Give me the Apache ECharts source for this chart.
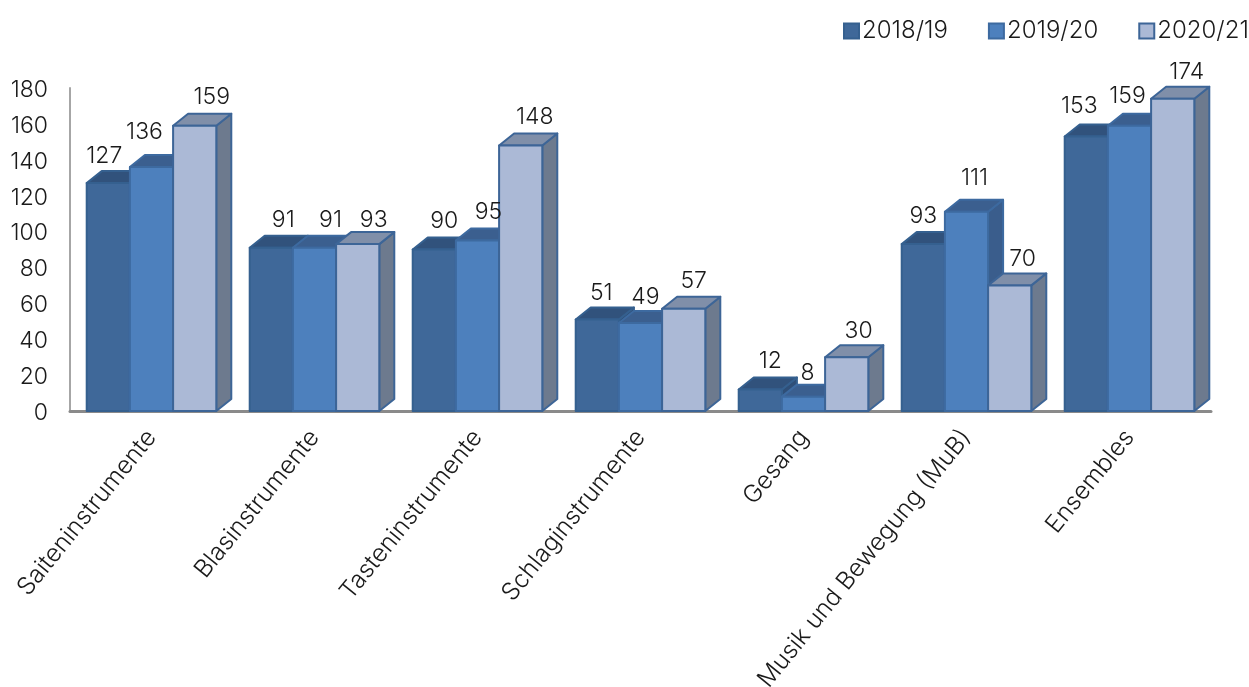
<!DOCTYPE html>
<html>
<head>
<meta charset="utf-8">
<title>Chart</title>
<script src="https://cdn.jsdelivr.net/npm/echarts@6/dist/echarts.min.js"></script>
<style>
  html, body { margin: 0; padding: 0; background: #fff; }
  #main { width: 1249px; height: 687px; }
</style>
</head>
<body>
<div id="main"></div>
<script>
const categories = ['Saiteninstrumente', 'Blasinstrumente', 'Tasteninstrumente', 'Schlaginstrumente', 'Gesang', 'Musik und Bewegung (MuB)', 'Ensembles'];
const seriesNames = ['2018/19', '2019/20', '2020/21'];
const values1819 = [127, 91, 90, 51, 12, 93, 153];
const values1920 = [136, 91, 95, 49, 8, 111, 159];
const values2021 = [159, 93, 148, 57, 30, 70, 174];
const yTicks = { min: 0, max: 180, interval: 20 };

// hand placed data labels in the original, offset from the top middle of each bar
const labelShift1819 = [[-4, -27], [12, -28], [10, -28], [4, -26], [10, -28], [0, -28], [-7, -30]];
const labelShift1920 = [[-7, -35], [16, -28], [11, -28], [5, -26], [4, -24], [8, -34], [-2, -30]];
const labelShift2021 = [[17, -29], [16, -24], [14, -28], [10, -28], [12, -26], [13, -26], [14, -27]];

const fontName = 'Inter';
const fontWeight = 300;
const numberSize = 23;
const wordSize = 24.5;
const legendSize = 24;
const textColor = '#1a1a1a';
const depthX = 15;
const depthY = 12;
const barShare = 0.265;

const looks = [
  { front: '#3f6899', top: '#31527c', side: '#2f4f78', line: '#35608f' },
  { front: '#4d80bd', top: '#3b5f8f', side: '#3a5d8c', line: '#3d6aa0' },
  { front: '#abb9d6', top: '#808fa9', side: '#6d7a8e', line: '#3d6597' }
];

function bar3d(seriesIndex, shifts) {
  return function (params, api) {
    const i = api.value(0);
    const v = api.value(1);
    const base = api.coord([i, 0]);
    const head = api.coord([i, v]);
    const w = api.size([1, 0])[0] * barShare;
    const x0 = base[0] + (seriesIndex - 1.5) * w;
    const x1 = x0 + w;
    const y0 = base[1];
    const y1 = head[1];
    const look = looks[seriesIndex];
    const edge = { stroke: look.line, lineWidth: 2, lineJoin: 'round' };
    return {
      type: 'group',
      children: [
        {
          type: 'polygon',
          shape: { points: [[x1, y0], [x1 + depthX, y0 - depthY], [x1 + depthX, y1 - depthY], [x1, y1]] },
          style: Object.assign({ fill: look.side }, edge)
        },
        {
          type: 'polygon',
          shape: { points: [[x0, y1], [x0 + depthX, y1 - depthY], [x1 + depthX, y1 - depthY], [x1, y1]] },
          style: Object.assign({ fill: look.top }, edge)
        },
        {
          type: 'rect',
          shape: { x: x0, y: y1, width: w, height: y0 - y1 },
          style: Object.assign({ fill: look.front }, edge)
        },
        {
          type: 'text',
          z2: 100,
          style: {
            x: (x0 + x1) / 2 + shifts[i][0],
            y: y1 + shifts[i][1],
            text: String(v),
            fill: textColor,
            font: fontWeight + ' ' + numberSize + 'px ' + fontName,
            align: 'center',
            verticalAlign: 'middle'
          }
        }
      ]
    };
  };
}

function makeSeries(index, values, shifts) {
  return {
    name: seriesNames[index],
    type: 'custom',
    coordinateSystem: 'cartesian2d',
    clip: false,
    itemStyle: { color: looks[index].front, borderColor: looks[index].line, borderWidth: 2 },
    encode: { x: 0, y: 1 },
    data: values.map(function (v, i) { return [i, v]; }),
    renderItem: bar3d(index, shifts)
  };
}

const chart = echarts.init(document.getElementById('main'));
chart.setOption({
  animation: false,
  backgroundColor: '#fff',
  textStyle: { fontFamily: fontName, fontWeight: fontWeight },
  legend: {
    data: seriesNames,
    left: 838,
    top: 14,
    width: 600,
    padding: 5,
    icon: 'rect',
    itemWidth: 15,
    itemHeight: 15,
    itemGap: 40,
    textStyle: { fontSize: legendSize, fontWeight: fontWeight, color: textColor, padding: [0, 0, 0, -2] }
  },
  grid: { left: 70, right: 38, top: 88, bottom: 276, outerBoundsMode: 'none' },
  xAxis: {
    type: 'category',
    data: categories,
    axisLine: { show: true, lineStyle: { color: '#8a8a8a', width: 3 } },
    axisTick: { show: false },
    splitLine: { show: false },
    axisLabel: { interval: 0, rotate: 51, fontSize: wordSize, fontWeight: fontWeight, color: textColor, margin: 22, hideOverlap: false }
  },
  yAxis: {
    type: 'value',
    min: yTicks.min,
    max: yTicks.max,
    interval: yTicks.interval,
    axisLine: { show: true, lineStyle: { color: '#a6a6a6', width: 2 } },
    axisTick: { show: false },
    splitLine: { show: false },
    axisLabel: {
      margin: 22,
      formatter: '{n|{value}}',
      rich: { n: { fontSize: numberSize, fontWeight: fontWeight, fontFamily: fontName, color: textColor, padding: [4, 0, 0, 0] } }
    }
  },
  series: [
    makeSeries(0, values1819, labelShift1819),
    makeSeries(1, values1920, labelShift1920),
    makeSeries(2, values2021, labelShift2021)
  ]
});
</script>
</body>
</html>
